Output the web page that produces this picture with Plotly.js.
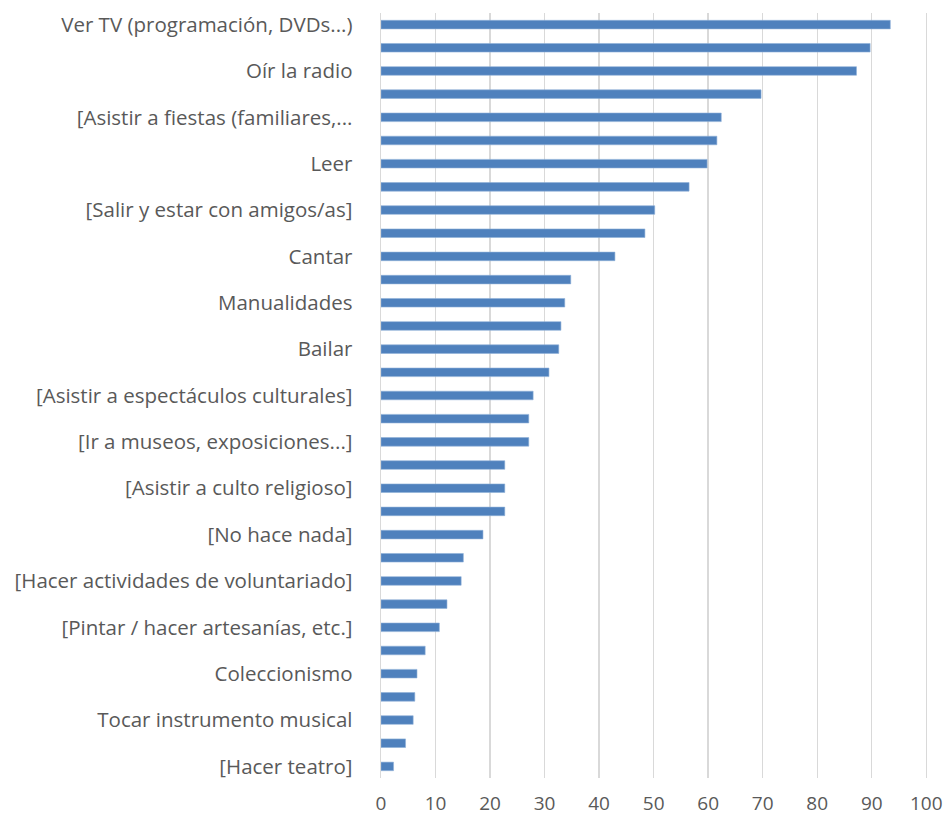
<!DOCTYPE html>
<html>
<head>
<meta charset="utf-8">
<script src="https://cdn.plot.ly/plotly-3.0.1.min.js"></script>
<style>html,body{margin:0;padding:0;background:#fff;}#chart{width:950px;height:818px;}</style>
</head>
<body>
<div id="chart"></div>
<script>
// Values of the 33 bars, top to bottom
const values = [93.4, 89.7, 87.2, 69.7, 62.4, 61.6, 59.8, 56.5, 50.2, 48.4, 42.9,
  34.8, 33.7, 33.0, 32.6, 30.8, 27.9, 27.1, 27.1, 22.7, 22.7, 22.7, 18.7,
  15.1, 14.7, 12.1, 10.7, 8.1, 6.6, 6.2, 5.9, 4.5, 2.3];
// Tick labels shown (every other bar, starting with the first)
const tickLabels = [
  "Ver TV (programación, DVDs...)",
  "Oír la radio",
  "[Asistir a fiestas (familiares,...",
  "Leer",
  "[Salir y estar con amigos/as]",
  "Cantar",
  "Manualidades",
  "Bailar",
  "[Asistir a espectáculos culturales]",
  "[Ir a museos, exposiciones...]",
  "[Asistir a culto religioso]",
  "[No hace nada]",
  "[Hacer actividades de voluntariado]",
  "[Pintar / hacer artesanías, etc.]",
  "Coleccionismo",
  "Tocar instrumento musical",
  "[Hacer teatro]"
];
const xTicks = [0, 10, 20, 30, 40, 50, 60, 70, 80, 90, 100];

const positions = values.map((v, i) => i);
const tickPositions = tickLabels.map((t, i) => i * 2);

const trace = {
  type: 'bar',
  orientation: 'h',
  x: values,
  y: positions,
  marker: { color: '#4F81BD', line: { color: '#8FB0D8', width: 0.6 } },
  hoverinfo: 'x'
};

const layout = {
  width: 950, height: 818,
  margin: { l: 381, r: 21, t: 13, b: 40 },
  paper_bgcolor: '#ffffff', plot_bgcolor: '#ffffff',
  bargap: 0.63,
  showlegend: false,
  font: { family: 'Open Sans, Liberation Sans, sans-serif', size: 19, color: '#595959' },
  xaxis: {
    range: [0, 100.5],
    tickvals: xTicks,
    ticktext: xTicks.map(String),
    showgrid: true, gridcolor: '#d9d9d9', gridwidth: 1.4,
    zeroline: false, showline: false, ticks: '',
    ticklabelstandoff: 12,
    tickfont: { size: 19, color: '#595959' },
    fixedrange: true
  },
  yaxis: {
    range: [32.5, -0.5],
    tickvals: tickPositions,
    ticktext: tickLabels,
    showgrid: false, zeroline: false,
    showline: true, linecolor: '#d9d9d9', linewidth: 1.4,
    ticks: '', ticklabelstandoff: 23,
    tickfont: { size: 20.5, color: '#595959' },
    fixedrange: true
  }
};

Plotly.newPlot('chart', [trace], layout, { displayModeBar: false, staticPlot: true });
</script>
</body>
</html>
